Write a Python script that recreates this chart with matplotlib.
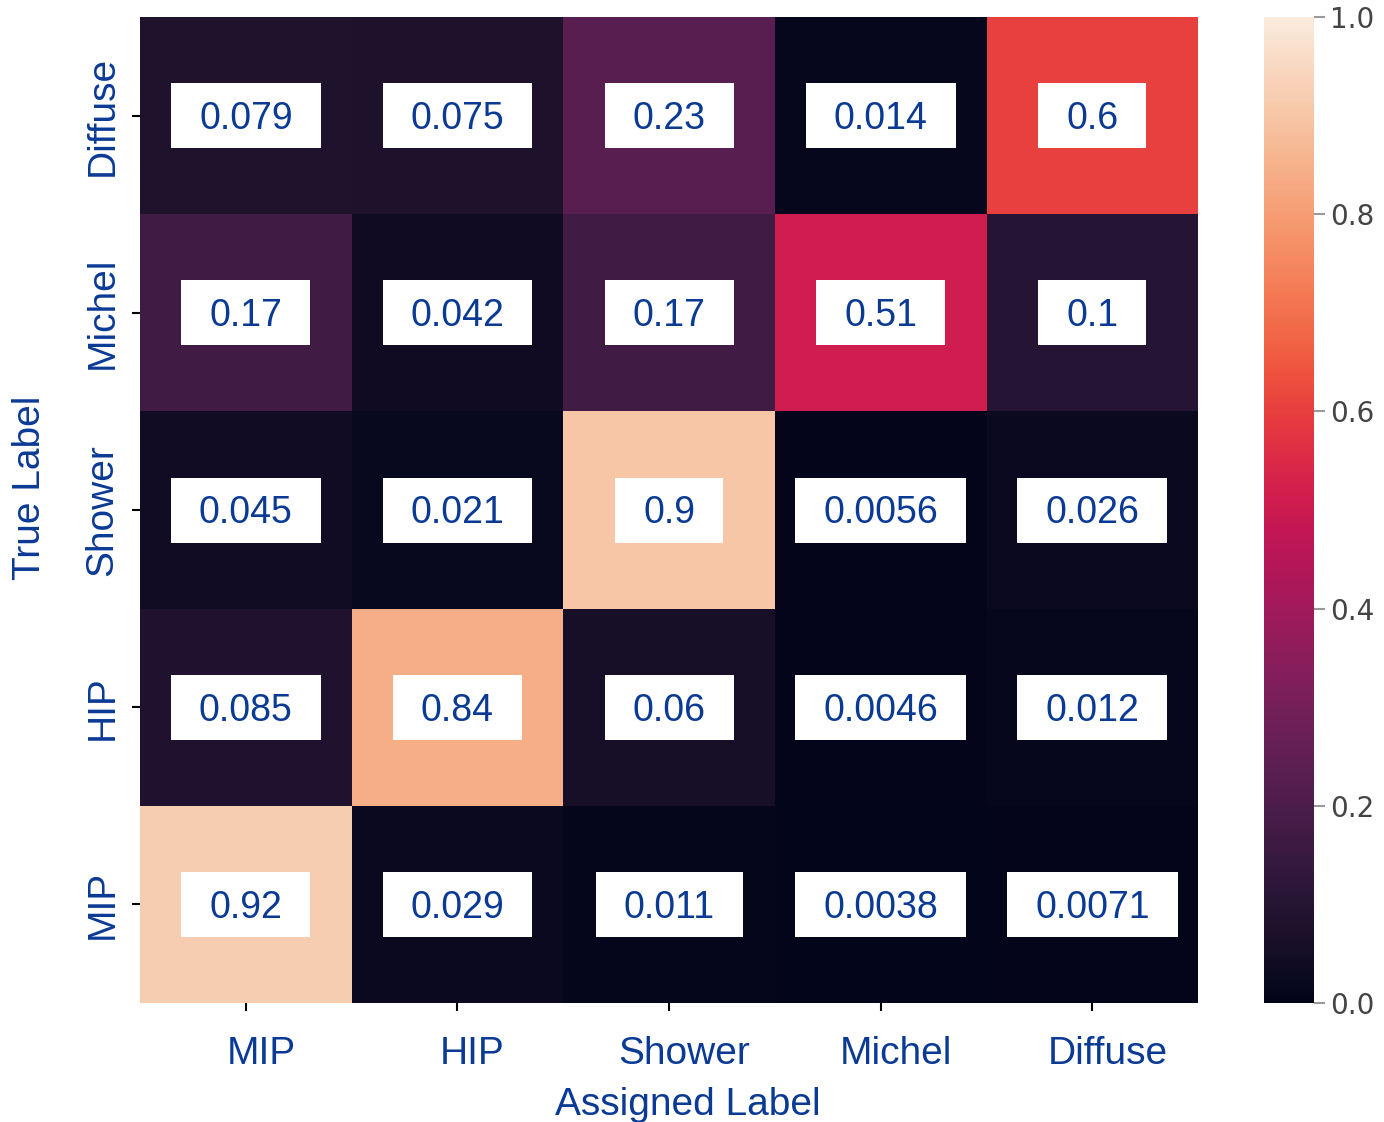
import numpy as np
import matplotlib.pyplot as plt
import matplotlib.transforms as mtransforms
from matplotlib.patches import Rectangle
import seaborn as sns

# Confusion matrix (rows: true label, columns: assigned label)
assigned_labels = ["MIP", "HIP", "Shower", "Michel", "Diffuse"]
true_labels = ["Diffuse", "Michel", "Shower", "HIP", "MIP"]

row_diffuse = [0.079, 0.075, 0.23, 0.014, 0.6]
row_michel = [0.17, 0.042, 0.17, 0.51, 0.1]
row_shower = [0.045, 0.021, 0.9, 0.0056, 0.026]
row_hip = [0.085, 0.84, 0.06, 0.0046, 0.012]
row_mip = [0.92, 0.029, 0.011, 0.0038, 0.0071]

cbar_ticks = [0.0, 0.2, 0.4, 0.6, 0.8, 1.0]

matrix = np.array([row_diffuse, row_michel, row_shower, row_hip, row_mip])

navy = "#0a3a94"
plt.rcParams['font.family'] = ['Liberation Sans', 'DejaVu Sans']

fig = plt.figure(figsize=(13.84, 11.22), dpi=100)
ax = fig.add_axes([0.1012, 0.106, 0.7645, 0.8788])
cax = fig.add_axes([0.9133, 0.106, 0.0361, 0.8788])

sns.heatmap(matrix, ax=ax, cbar_ax=cax, cmap="rocket", vmin=0, vmax=1,
            annot=False, xticklabels=assigned_labels, yticklabels=true_labels,
            cbar_kws={"ticks": cbar_ticks})

ax.tick_params(axis="x", labelsize=28, labelcolor=navy, length=6, width=1.5, pad=18)
ax.tick_params(axis="y", labelsize=28, labelcolor=navy, length=6, width=1.5, pad=8)
plt.setp(ax.get_yticklabels(), rotation=90, va="center")
plt.setp(ax.get_xticklabels(), rotation=0)
shift = mtransforms.ScaledTranslation(0.15, 0, fig.dpi_scale_trans)
for lab in ax.get_xticklabels():
    lab.set_transform(lab.get_transform() + shift)

ax.set_xlabel("Assigned Label", fontsize=28, color=navy, labelpad=10)
ax.xaxis.set_label_coords(0.518, -0.085)
ax.set_ylabel("True Label", fontsize=28, color=navy, labelpad=14)
ax.yaxis.set_label_coords(-0.087, 0.523)

cax.tick_params(labelsize=20, labelcolor="#444444", length=8, width=1.5, color="#999999")
cax.set_yticklabels([f"{t:.1f}" for t in cbar_ticks], family="DejaVu Sans")

# Value labels in white boxes
fs = 27
cap_px = 0.716 * fs * fig.dpi / 72
fig.canvas.draw()
renderer = fig.canvas.get_renderer()
p0 = ax.transData.transform((0, 0))
p1 = ax.transData.transform((1, 1))
cell_w = abs(p1[0] - p0[0])
cell_h = abs(p1[1] - p0[1])
for i in range(matrix.shape[0]):
    for j in range(matrix.shape[1]):
        t = ax.text(j + 0.5, i + 0.5 + cap_px / 2 / cell_h, f"{matrix[i, j]:.2g}",
                    ha="center", va="baseline", fontsize=fs, color=navy, zorder=4)
        tw = t.get_window_extent(renderer).width
        bw = (tw + 56) / cell_w
        bh = 65 / cell_h
        ax.add_patch(Rectangle((j + 0.5 - bw / 2, i + 0.5 - bh / 2), bw, bh,
                               facecolor="white", edgecolor="none", zorder=3))

fig.savefig("out.png", dpi=100)
